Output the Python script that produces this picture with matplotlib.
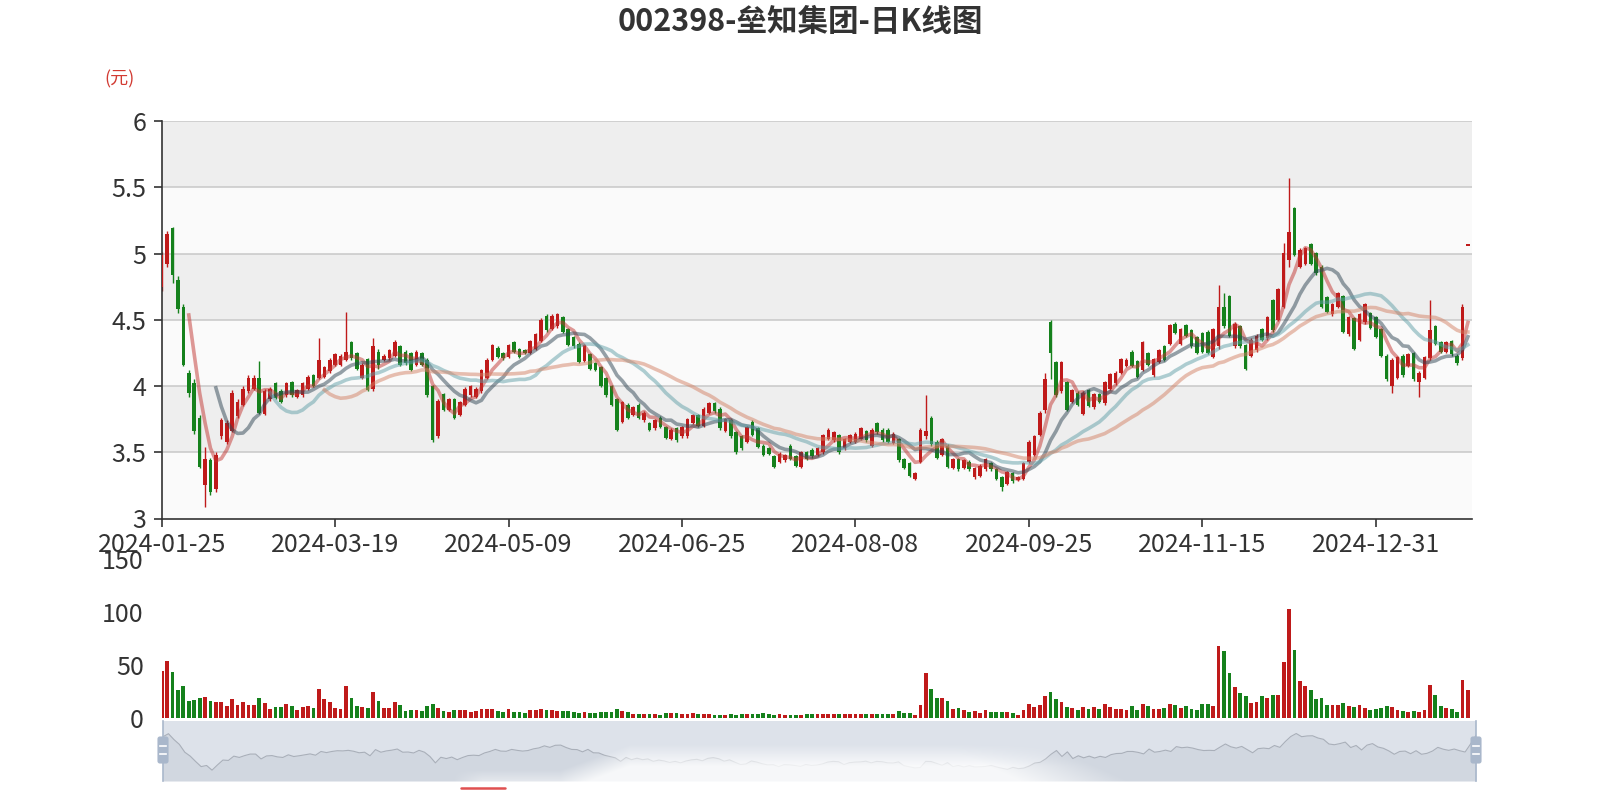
import numpy as np
import pandas as pd
import matplotlib
matplotlib.use("Agg")
import matplotlib.pyplot as plt
from matplotlib.patches import FancyBboxPatch

plt.rcParams['font.family'] = ['Noto Sans CJK SC', 'DejaVu Sans']

title = "002398-垒知集团-日K线图"
unit_label = "(元)"

# trading days (SSE calendar, holidays removed)
holidays = ['2024-02-09', '2024-02-12', '2024-02-13', '2024-02-14', '2024-02-15', '2024-02-16',
            '2024-04-04', '2024-04-05', '2024-05-01', '2024-05-02', '2024-05-03', '2024-06-10',
            '2024-09-16', '2024-09-17', '2024-10-01', '2024-10-02', '2024-10-03', '2024-10-04',
            '2024-10-07', '2025-01-01']
dates = pd.bdate_range('2024-01-25', '2025-01-24', freq='C', holidays=holidays).strftime('%Y-%m-%d').tolist()

opens = [4.75, 4.92, 5.19, 4.80, 4.60, 4.10, 4.02, 3.76, 3.25, 3.44,
         3.22, 3.62, 3.58, 3.66, 3.77, 3.86, 3.96, 3.98, 4.06, 3.79,
         3.90, 4.02, 3.96, 3.93, 4.03, 3.92, 3.93, 3.98, 4.08, 4.06,
         4.07, 4.11, 4.16, 4.16, 4.20, 4.33, 4.25, 4.06, 4.20, 3.98,
         4.26, 4.20, 4.21, 4.23, 4.30, 4.26, 4.25, 4.16, 4.25, 4.20,
         4.00, 3.62, 3.94, 3.82, 3.90, 3.78, 3.86, 3.93, 3.92, 3.96,
         4.06, 4.20, 4.29, 4.25, 4.22, 4.33, 4.28, 4.27, 4.25, 4.28,
         4.34, 4.53, 4.43, 4.45, 4.52, 4.43, 4.37, 4.32, 4.19, 4.24,
         4.17, 4.14, 4.06, 4.00, 3.90, 3.73, 3.86, 3.78, 3.86, 3.74,
         3.72, 3.68, 3.76, 3.69, 3.60, 3.68, 3.62, 3.62, 3.72, 3.78,
         3.70, 3.80, 3.87, 3.83, 3.66, 3.74, 3.65, 3.62, 3.58, 3.73,
         3.68, 3.55, 3.53, 3.47, 3.43, 3.44, 3.55, 3.47, 3.39, 3.50,
         3.52, 3.48, 3.50, 3.60, 3.59, 3.63, 3.53, 3.58, 3.58, 3.60,
         3.66, 3.55, 3.72, 3.67, 3.67, 3.57, 3.60, 3.45, 3.42, 3.30,
         3.43, 3.62, 3.76, 3.58, 3.48, 3.55, 3.38, 3.45, 3.38, 3.43,
         3.31, 3.32, 3.37, 3.42, 3.37, 3.31, 3.26, 3.34, 3.29, 3.30,
         3.43, 3.48, 3.63, 3.82, 4.48, 4.18, 3.96, 4.03, 3.88, 3.95,
         3.79, 3.97, 3.84, 3.94, 3.87, 3.98, 4.02, 4.10, 4.15, 4.26,
         4.19, 4.12, 4.25, 4.08, 4.18, 4.30, 4.32, 4.47, 4.32, 4.46,
         4.42, 4.37, 4.40, 4.41, 4.22, 4.30, 4.60, 4.68, 4.30, 4.45,
         4.31, 4.23, 4.27, 4.43, 4.36, 4.65, 4.50, 4.60, 4.95, 5.34,
         4.90, 4.92, 5.07, 5.00, 4.90, 4.67, 4.54, 4.60, 4.68, 4.39,
         4.51, 4.35, 4.48, 4.55, 4.52, 4.43, 4.23, 4.00, 4.06, 4.23,
         4.15, 4.25, 4.03, 4.06, 4.21, 4.45, 4.33, 4.26, 4.34, 4.23,
         4.21, 5.06]

closes = [4.99, 5.15, 4.84, 4.58, 4.16, 3.95, 3.66, 3.39, 3.45, 3.20,
          3.48, 3.74, 3.72, 3.95, 3.88, 3.98, 4.06, 4.06, 3.80, 3.96,
          3.98, 3.91, 3.88, 4.02, 3.93, 3.97, 4.02, 4.07, 4.00, 4.20,
          4.14, 4.20, 4.24, 4.23, 4.26, 4.21, 4.13, 4.16, 3.97, 4.30,
          4.16, 4.23, 4.27, 4.33, 4.16, 4.17, 4.12, 4.26, 4.16, 3.93,
          3.59, 3.89, 3.82, 3.90, 3.76, 3.88, 3.98, 4.00, 3.98, 4.12,
          4.20, 4.31, 4.22, 4.21, 4.31, 4.26, 4.22, 4.25, 4.34, 4.39,
          4.50, 4.42, 4.53, 4.54, 4.41, 4.31, 4.30, 4.18, 4.31, 4.13,
          4.12, 4.00, 3.93, 3.86, 3.67, 3.88, 3.76, 3.84, 3.76, 3.80,
          3.67, 3.74, 3.69, 3.61, 3.67, 3.59, 3.69, 3.75, 3.78, 3.70,
          3.83, 3.87, 3.81, 3.68, 3.75, 3.62, 3.50, 3.53, 3.69, 3.63,
          3.54, 3.48, 3.49, 3.39, 3.49, 3.48, 3.45, 3.40, 3.50, 3.45,
          3.47, 3.53, 3.63, 3.67, 3.65, 3.50, 3.60, 3.63, 3.64, 3.68,
          3.59, 3.67, 3.65, 3.59, 3.58, 3.64, 3.44, 3.38, 3.32, 3.34,
          3.67, 3.66, 3.56, 3.46, 3.60, 3.39, 3.45, 3.37, 3.44, 3.37,
          3.38, 3.40, 3.45, 3.37, 3.30, 3.24, 3.35, 3.28, 3.31, 3.42,
          3.58, 3.62, 3.80, 4.05, 4.25, 3.93, 4.18, 3.82, 3.97, 3.86,
          3.95, 3.85, 3.94, 3.88, 4.03, 4.09, 4.10, 4.20, 4.20, 4.15,
          4.07, 4.33, 4.16, 4.20, 4.27, 4.20, 4.46, 4.40, 4.43, 4.38,
          4.30, 4.25, 4.26, 4.25, 4.43, 4.60, 4.45, 4.38, 4.47, 4.30,
          4.13, 4.35, 4.38, 4.35, 4.52, 4.42, 4.73, 5.00, 5.16, 4.99,
          5.03, 5.04, 4.92, 4.85, 4.60, 4.56, 4.62, 4.70, 4.41, 4.52,
          4.28, 4.54, 4.62, 4.44, 4.37, 4.23, 4.05, 4.20, 4.22, 4.08,
          4.24, 4.05, 4.10, 4.22, 4.42, 4.32, 4.26, 4.33, 4.24, 4.17,
          4.60, 5.06]

lows = [4.72, 4.90, 4.78, 4.55, 4.15, 3.92, 3.64, 3.38, 3.09, 3.18,
        3.20, 3.60, 3.56, 3.65, 3.76, 3.85, 3.95, 3.97, 3.79, 3.78,
        3.89, 3.90, 3.87, 3.92, 3.92, 3.91, 3.92, 3.97, 3.99, 4.05,
        4.06, 4.10, 4.15, 4.15, 4.19, 4.20, 4.12, 4.05, 3.96, 3.96,
        4.13, 4.19, 4.20, 4.22, 4.15, 4.16, 4.11, 4.15, 4.15, 3.92,
        3.58, 3.61, 3.81, 3.81, 3.75, 3.77, 3.85, 3.92, 3.91, 3.95,
        4.05, 4.19, 4.21, 4.20, 4.21, 4.25, 4.21, 4.24, 4.24, 4.27,
        4.33, 4.41, 4.42, 4.44, 4.40, 4.30, 4.29, 4.17, 4.18, 4.12,
        4.11, 3.99, 3.92, 3.85, 3.66, 3.72, 3.75, 3.77, 3.75, 3.73,
        3.66, 3.67, 3.68, 3.60, 3.59, 3.58, 3.61, 3.61, 3.71, 3.69,
        3.69, 3.79, 3.80, 3.67, 3.65, 3.61, 3.49, 3.52, 3.57, 3.62,
        3.53, 3.47, 3.48, 3.38, 3.42, 3.43, 3.44, 3.39, 3.38, 3.44,
        3.46, 3.47, 3.49, 3.59, 3.58, 3.49, 3.52, 3.57, 3.57, 3.59,
        3.58, 3.54, 3.64, 3.58, 3.57, 3.56, 3.43, 3.37, 3.31, 3.29,
        3.42, 3.60, 3.55, 3.45, 3.47, 3.38, 3.37, 3.36, 3.37, 3.36,
        3.30, 3.31, 3.36, 3.36, 3.29, 3.21, 3.25, 3.27, 3.28, 3.29,
        3.42, 3.47, 3.62, 3.80, 4.05, 3.92, 3.95, 3.81, 3.87, 3.85,
        3.78, 3.84, 3.83, 3.87, 3.86, 3.97, 4.01, 4.09, 4.14, 4.14,
        4.06, 4.11, 4.15, 4.07, 4.17, 4.19, 4.31, 4.39, 4.31, 4.37,
        4.29, 4.24, 4.25, 4.24, 4.21, 4.28, 4.44, 4.37, 4.29, 4.29,
        4.12, 4.22, 4.26, 4.34, 4.35, 4.41, 4.49, 4.59, 4.90, 4.98,
        4.89, 4.91, 4.91, 4.84, 4.59, 4.55, 4.53, 4.59, 4.40, 4.38,
        4.27, 4.34, 4.47, 4.43, 4.36, 4.22, 4.04, 3.95, 4.05, 4.07,
        4.14, 4.04, 3.92, 4.05, 4.20, 4.31, 4.25, 4.25, 4.23, 4.16,
        4.20, 5.06]

highs = [5.01, 5.17, 5.20, 4.83, 4.62, 4.12, 4.05, 3.78, 3.54, 3.46,
         3.50, 3.76, 3.74, 3.97, 3.90, 4.00, 4.08, 4.08, 4.19, 3.98,
         3.99, 4.03, 3.98, 4.03, 4.04, 3.98, 4.03, 4.08, 4.09, 4.36,
         4.15, 4.21, 4.25, 4.24, 4.56, 4.34, 4.26, 4.17, 4.21, 4.36,
         4.28, 4.24, 4.28, 4.35, 4.31, 4.27, 4.26, 4.27, 4.26, 4.21,
         4.01, 3.90, 3.95, 3.91, 3.91, 3.89, 3.99, 4.01, 3.99, 4.13,
         4.21, 4.32, 4.30, 4.26, 4.32, 4.34, 4.29, 4.28, 4.35, 4.40,
         4.51, 4.54, 4.54, 4.55, 4.53, 4.44, 4.38, 4.33, 4.32, 4.25,
         4.18, 4.15, 4.07, 4.01, 3.91, 3.89, 3.87, 3.85, 3.87, 3.81,
         3.73, 3.75, 3.77, 3.70, 3.68, 3.69, 3.70, 3.76, 3.79, 3.79,
         3.84, 3.88, 3.88, 3.84, 3.76, 3.75, 3.66, 3.63, 3.70, 3.74,
         3.69, 3.56, 3.54, 3.48, 3.50, 3.49, 3.56, 3.48, 3.51, 3.51,
         3.53, 3.54, 3.64, 3.68, 3.66, 3.64, 3.61, 3.64, 3.65, 3.69,
         3.67, 3.68, 3.73, 3.68, 3.68, 3.65, 3.61, 3.46, 3.43, 3.35,
         3.68, 3.93, 3.77, 3.59, 3.61, 3.56, 3.46, 3.46, 3.45, 3.44,
         3.39, 3.41, 3.46, 3.43, 3.38, 3.32, 3.36, 3.35, 3.32, 3.43,
         3.59, 3.63, 3.81, 4.10, 4.50, 4.19, 4.19, 4.04, 3.98, 3.96,
         3.96, 3.98, 3.95, 3.95, 4.04, 4.10, 4.11, 4.21, 4.21, 4.27,
         4.20, 4.34, 4.26, 4.21, 4.28, 4.31, 4.47, 4.48, 4.44, 4.47,
         4.43, 4.38, 4.41, 4.42, 4.44, 4.76, 4.70, 4.69, 4.48, 4.46,
         4.32, 4.36, 4.39, 4.44, 4.53, 4.66, 4.74, 5.08, 5.57, 5.35,
         5.04, 5.05, 5.08, 5.01, 4.91, 4.68, 4.63, 4.71, 4.69, 4.53,
         4.52, 4.55, 4.63, 4.56, 4.53, 4.44, 4.24, 4.21, 4.23, 4.24,
         4.25, 4.26, 4.11, 4.23, 4.65, 4.46, 4.34, 4.34, 4.35, 4.24,
         4.62, 5.06]

volumes = [44.6, 54.0, 43.0, 26.7, 30.0, 16.0, 17.3, 19.0, 19.8, 16.0,
           15.0, 15.0, 11.0, 18.0, 12.0, 15.0, 12.6, 12.0, 19.0, 14.0,
           8.5, 10.7, 10.7, 13.0, 11.0, 8.0, 10.7, 11.0, 9.7, 27.0,
           18.0, 15.0, 9.7, 8.8, 30.0, 19.0, 11.0, 10.4, 9.4, 25.0,
           16.0, 9.4, 9.4, 15.0, 12.6, 6.3, 8.0, 7.9, 6.6, 11.6,
           12.9, 9.4, 6.6, 5.3, 7.5, 7.5, 7.2, 6.0, 6.6, 8.8,
           8.8, 8.8, 6.9, 6.0, 8.5, 6.0, 6.0, 4.7, 7.2, 7.5,
           8.5, 7.9, 7.2, 6.3, 6.3, 6.6, 5.7, 5.0, 5.7, 5.0,
           5.0, 5.3, 5.7, 6.0, 8.5, 6.6, 5.3, 3.8, 3.8, 4.1,
           3.5, 3.5, 3.1, 5.0, 4.4, 4.4, 4.1, 4.1, 5.0, 4.1,
           3.5, 3.5, 3.1, 3.1, 3.1, 3.8, 3.1, 4.1, 4.1, 4.1,
           3.5, 4.4, 3.5, 3.1, 3.5, 3.1, 3.1, 3.1, 3.1, 3.8,
           3.8, 4.1, 3.8, 3.8, 3.8, 3.5, 3.8, 3.8, 4.1, 4.1,
           4.1, 3.8, 3.8, 3.8, 4.1, 3.8, 6.6, 4.7, 4.7, 3.1,
           12.6, 42.5, 27.0, 19.0, 19.0, 16.0, 8.5, 9.4, 7.5, 5.7,
           6.6, 4.7, 7.2, 5.3, 5.3, 5.7, 5.3, 4.7, 3.1, 7.2,
           13.0, 10.0, 12.0, 21.0, 24.5, 18.0, 15.0, 10.7, 9.0, 7.5,
           10.0, 8.8, 10.0, 8.8, 13.0, 10.0, 8.8, 8.8, 7.5, 11.0,
           7.5, 13.5, 11.0, 8.2, 8.5, 9.4, 13.0, 12.0, 9.4, 11.3,
           8.8, 7.5, 13.5, 13.5, 11.6, 68.0, 63.0, 42.0, 29.6, 24.0,
           21.0, 14.5, 15.4, 21.0, 18.6, 21.7, 22.0, 52.5, 103.0, 64.5,
           35.0, 30.5, 26.4, 18.0, 19.0, 12.3, 12.3, 12.0, 14.5, 11.6,
           10.0, 12.6, 9.7, 7.9, 8.2, 9.1, 11.3, 10.7, 7.5, 6.6,
           6.0, 6.9, 5.7, 7.2, 31.0, 22.0, 11.0, 9.4, 8.5, 5.7,
           36.0, 26.0]

ma_days = [5, 10, 20, 30]
ma_colors = ['#c23531', '#2f4554', '#61a0a8', '#d48265']

up_color = '#bf1a1a'
down_color = '#15811c'


def calc_ma(n):
    # same as the echarts example: starts at index n
    out = np.full(len(closes), np.nan)
    for i in range(n, len(closes)):
        out[i] = np.mean(closes[i - n + 1:i + 1])
    return out


o = np.array(opens)
c = np.array(closes)
x = np.arange(len(dates))
cols = [up_color if cc >= oo else down_color for oo, cc in zip(o, c)]

W, H = 1600, 800
fig = plt.figure(figsize=(16, 8), dpi=100)
fig.patch.set_facecolor('white')
left = 161.7 / W
width = 1310 / W
xmax = 241.7
lab_size = 18

# ---- main candlestick panel ----
ax = fig.add_axes([left, 1 - 518.5 / H, width, 397.5 / H])
ax.set_xlim(0, xmax)
ax.set_ylim(3, 6)
bands = np.arange(3, 6, 0.5)
for k, b in enumerate(bands):
    ax.axhspan(b, b + 0.5, color='#fafafa' if k % 2 == 0 else '#eeeeee', lw=0, zorder=0)
yt = np.arange(3, 6.01, 0.5)
ax.set_yticks(yt)
ax.set_yticklabels([f'{v:g}' for v in yt])
for v in yt[1:]:
    ax.axhline(v, color='#c8c8c8', lw=1.1, zorder=0.5)

ax.vlines(x, lows, highs, colors=cols, lw=1.0, zorder=2)
ax.bar(x, np.maximum(np.abs(c - o), 0.008), bottom=np.minimum(o, c), width=0.66,
       color=cols, lw=0, zorder=3)

for n, col in zip(ma_days, ma_colors):
    ax.plot(x, calc_ma(n), color=col, alpha=0.5, lw=2.6, zorder=4)

for s in ['top', 'right']:
    ax.spines[s].set_visible(False)
for s in ['left', 'bottom']:
    ax.spines[s].set_color('#333333')
    ax.spines[s].set_linewidth(1.2)
ax.set_xticks(x[::32])
ax.set_xticklabels(dates[::32])
ax.tick_params(axis='x', length=6, width=1.2, color='#333333', pad=4, labelsize=lab_size, labelcolor='#333333')
ax.tick_params(axis='y', length=6, width=1.2, color='#333333', pad=5, labelsize=lab_size, labelcolor='#333333')

fig.text(119.5 / W, 1 - 79 / H, unit_label, ha='center', va='center', fontsize=13, color='#d23b33')
fig.text(0.5, 1 - 22.5 / H, title, ha='center', va='center', fontsize=22, fontweight='bold', color='#333333')

# ---- volume panel ----
axv = fig.add_axes([left, 1 - 718 / H, width, 159 / H])
axv.set_xlim(0, xmax)
axv.set_ylim(0, 150)
axv.bar(x, volumes, width=0.7, color=cols, lw=0)
axv.set_yticks([0, 50, 100, 150])
axv.set_xticks([])
axv.tick_params(axis='y', length=0, pad=13, labelsize=lab_size, labelcolor='#333333')
for s in axv.spines.values():
    s.set_visible(False)
axv.patch.set_alpha(0)

# ---- data zoom slider ----
axs = fig.add_axes([163 / W, 1 - 781 / H, 1313 / W, 60 / H])
axs.set_xlim(0, len(dates) - 1)
axs.set_ylim(2.62, 5.83)
axs.set_facecolor('#dde2ea')
axs.fill_between(x, 2.62, closes, color='#d1d7e0', lw=0)
axs.plot(x, closes, color='#a9afb9', lw=0.8)
axs.set_xticks([])
axs.set_yticks([])
for s in axs.spines.values():
    s.set_visible(False)

# overlay in pixel coordinates for handles and the white haze
ov = fig.add_axes([0, 0, 1, 1], zorder=10)
ov.set_xlim(0, W)
ov.set_ylim(H, 0)
ov.axis('off')
ov.patch.set_alpha(0)

gx = np.linspace(440, 1200, 400)
gy = np.linspace(725, 800, 80)
GX, GY = np.meshgrid(gx, gy)
left_rise = np.clip((GX - 452) / 30, 0, 1)
right_edge = 1040 + (GY - 740) * 2.2
right_fall = np.clip((right_edge - GX) / 110, 0, 1)
top_y = 770 - np.clip((GX - 560) / 70, 0, 1) * 26
vert = np.clip((GY - top_y) / 22, 0, 1)
haze = np.zeros(GX.shape + (4,))
haze[..., :3] = 1.0
haze[..., 3] = 0.82 * left_rise * right_fall * vert
ov.imshow(haze, extent=[440, 1200, 800, 725], aspect='auto', interpolation='bilinear')

for hx in [163, 1476]:
    ov.plot([hx, hx], [721, 781], color='#a9b7cb', lw=1.2)
    ov.add_patch(FancyBboxPatch((hx - 5, 737), 10, 26, boxstyle='round,pad=0,rounding_size=2',
                                fc='#a9b7cb', ec='#a9b7cb', lw=0.8))
    for hy in [746, 754]:
        ov.plot([hx - 3, hx + 3], [hy, hy], color='white', lw=1.2)

ov.plot([461, 505], [788, 788], color='#e05050', lw=1.8, solid_capstyle='round')

fig.savefig('out.png', dpi=100)
